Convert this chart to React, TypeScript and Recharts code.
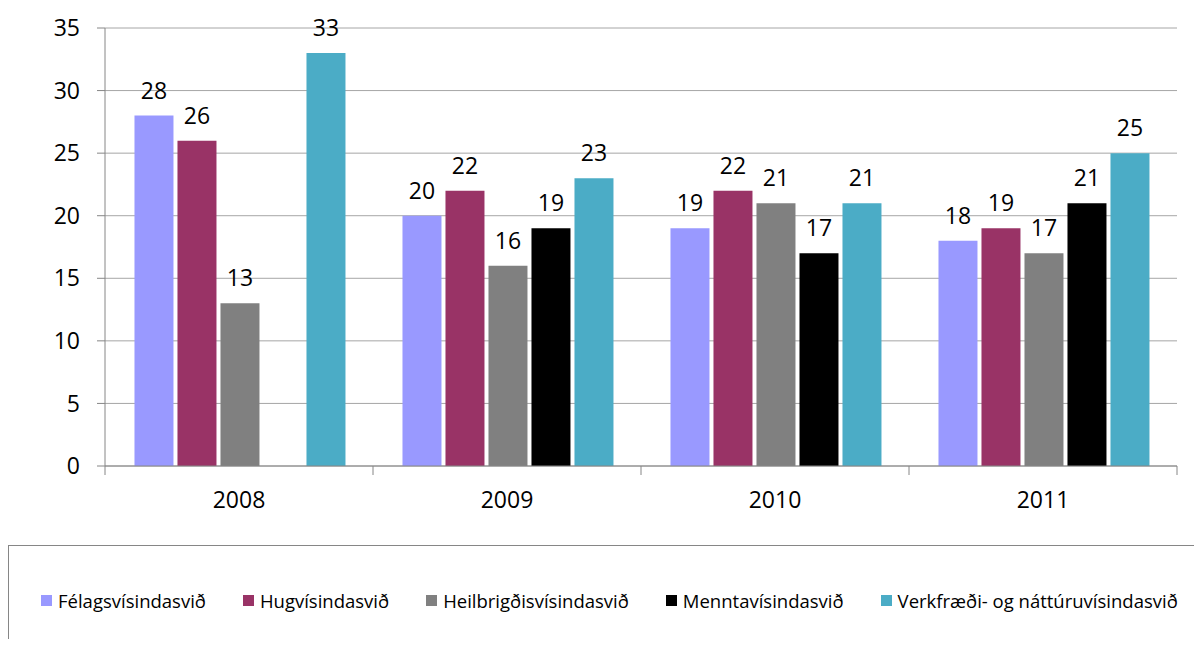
import { BarChart, Bar, XAxis, YAxis, CartesianGrid, LabelList } from "recharts";

const years = ["2008", "2009", "2010", "2011"];
const felags = [28, 20, 19, 18];
const hugvis = [26, 22, 22, 19];
const heilbr = [13, 16, 21, 17];
const mennta = [null, 19, 17, 21];
const verkfr = [33, 23, 21, 25];
const yTicks = [0, 5, 10, 15, 20, 25, 30, 35];

const series = [
  { key: "felags", name: "Félagsvísindasvið", color: "#9999FF", values: felags },
  { key: "hugvis", name: "Hugvísindasvið", color: "#993366", values: hugvis },
  { key: "heilbr", name: "Heilbrigðisvísindasvið", color: "#808080", values: heilbr },
  { key: "mennta", name: "Menntavísindasvið", color: "#000000", values: mennta },
  { key: "verkfr", name: "Verkfræði- og náttúruvísindasvið", color: "#4BACC6", values: verkfr },
];

const data = years.map((year, i) => {
  const row: Record<string, string | number | null> = { year };
  series.forEach((s) => (row[s.key] = s.values[i]));
  return row;
});

const FONT = "'Open Sans', sans-serif";
const CHART_W = 1194;
const Y_AXIS_W = 97;
const RIGHT = 25;
const BAND = (CHART_W - Y_AXIS_W - RIGHT) / years.length;

function YearTick(props: any) {
  const { x, y, payload, index } = props;
  const last = index === years.length - 1;
  return (
    <g>
      <line x1={x - BAND / 2} x2={x - BAND / 2} y1={y} y2={y + 9} stroke="#868686" />
      {last && <line x1={x + BAND / 2} x2={x + BAND / 2} y1={y} y2={y + 9} stroke="#868686" />}
      <text x={x} y={y + 42} textAnchor="middle" fontSize={23} fontFamily={FONT} fill="#000">
        {payload.value}
      </text>
    </g>
  );
}

export default function App() {
  return (
    <div style={{ position: "relative", width: CHART_W, height: 631, fontFamily: FONT }}>
      <BarChart
        width={CHART_W}
        height={530}
        data={data}
        margin={{ top: 20, right: RIGHT, left: 0, bottom: 42 }}
        barCategoryGap="11%"
        barGap={4}
      >
        <CartesianGrid vertical={false} stroke="#a6a6a6" />
        <XAxis
          dataKey="year"
          height={30}
          tickLine={false}
          tickSize={0}
          tickMargin={0}
          stroke="#868686"
          tick={<YearTick />}
        />
        <YAxis
          width={Y_AXIS_W}
          domain={[0, 35]}
          ticks={yTicks}
          tickSize={8}
          tickMargin={17}
          stroke="#868686"
          tick={{ fill: "#000", fontSize: 23, fontFamily: FONT }}
        />
        {series.map((s) => (
          <Bar key={s.key} dataKey={s.key} name={s.name} fill={s.color} isAnimationActive={false}>
            <LabelList
              dataKey={s.key}
              position="top"
              offset={17}
              fill="#000"
              fontSize={23}
              fontFamily={FONT}
            />
          </Bar>
        ))}
      </BarChart>
      <div
        style={{
          position: "absolute",
          top: 537,
          left: 0,
          width: CHART_W,
          height: 102,
          border: "1px solid #868686",
          borderRight: "none",
          borderBottom: "none",
          boxSizing: "border-box",
          display: "flex",
          alignItems: "center",
          paddingLeft: 32,
          paddingTop: 8,
          gap: 37,
          whiteSpace: "nowrap",
        }}
      >
        {series.map((s) => (
          <div key={s.key} style={{ display: "flex", alignItems: "center", gap: 6, fontSize: 18.5 }}>
            <span style={{ width: 11, height: 11, background: s.color, display: "inline-block" }} />
            <span>{s.name}</span>
          </div>
        ))}
      </div>
    </div>
  );
}
